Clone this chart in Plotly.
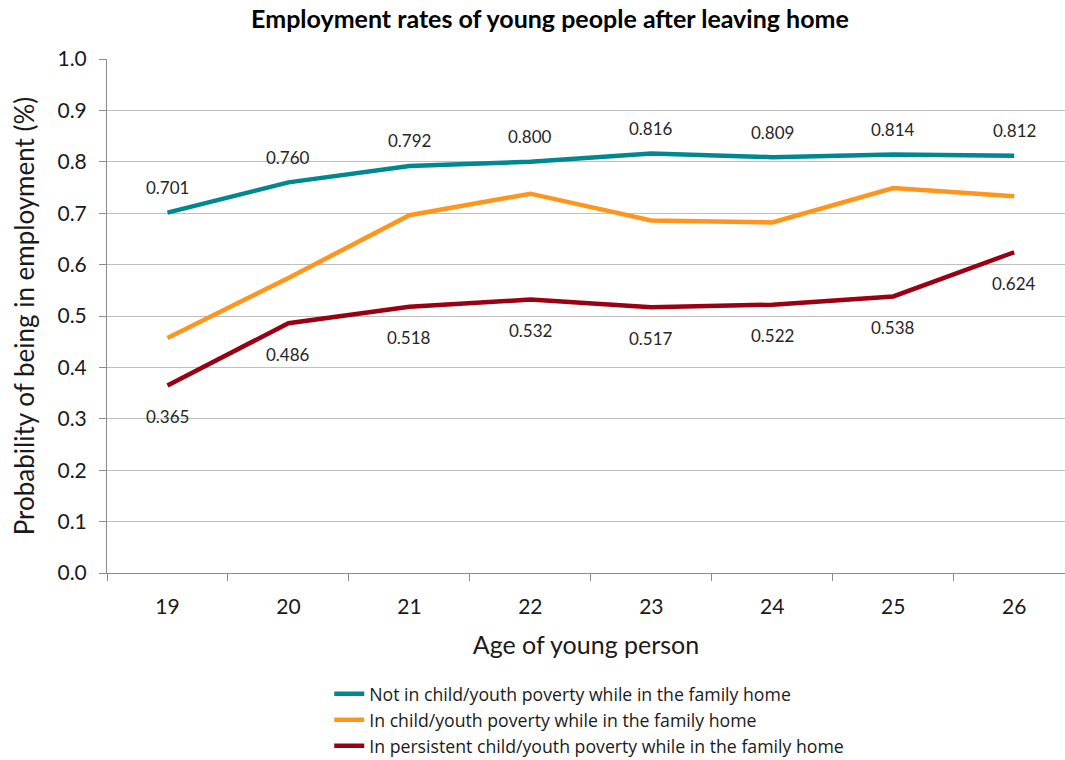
import plotly.graph_objects as go

ages = ["19", "20", "21", "22", "23", "24", "25", "26"]
not_in_poverty = [0.701, 0.760, 0.792, 0.800, 0.816, 0.809, 0.814, 0.812]
in_poverty = [0.457, 0.574, 0.696, 0.738, 0.686, 0.682, 0.749, 0.733]
persistent_poverty = [0.365, 0.486, 0.518, 0.532, 0.517, 0.522, 0.538, 0.624]

series_names = [
    "Not in child/youth poverty while in the family home",
    "In child/youth poverty while in the family home",
    "In persistent child/youth poverty while in the family home",
]
colors = ["#00878F", "#FF951C", "#990012"]

FONT = "Lato, 'Open Sans', sans-serif"

fig = go.Figure()
for name, vals, col in zip(series_names, [not_in_poverty, in_poverty, persistent_poverty], colors):
    fig.add_trace(go.Scatter(
        x=ages, y=vals, name=name, mode="lines",
        line=dict(color=col, width=4.5),
    ))

# value labels: above the top series, below the bottom series
annotations = []
for i, v in enumerate(not_in_poverty):
    annotations.append(dict(x=i, y=v, xref="x", yref="y", text=f"{v:.3f}",
                            showarrow=False, yshift=25,
                            font=dict(family=FONT, size=17, color="#262626")))
for i, v in enumerate(persistent_poverty):
    annotations.append(dict(x=i, y=v, xref="x", yref="y", text=f"{v:.3f}",
                            showarrow=False, yshift=-31,
                            font=dict(family=FONT, size=17, color="#262626")))

fig.update_layout(
    width=1065, height=760,
    paper_bgcolor="white", plot_bgcolor="white",
    margin=dict(l=107, r=0, t=59, b=187, autoexpand=False),
    title=dict(text="<b>Employment rates of young people after leaving home</b>",
               x=0.5164, xanchor="center", y=0.975, yanchor="middle",
               font=dict(family=FONT, size=25, color="black")),
    annotations=annotations,
    showlegend=True,
    legend=dict(x=0.232, y=-0.2, xanchor="left", yanchor="top",
                orientation="v", tracegroupgap=0,
                font=dict(family="'Open Sans', sans-serif", size=17.7, color="#1a1a1a"),
                itemwidth=30, bgcolor="rgba(0,0,0,0)"),
    font=dict(family=FONT),
)

fig.update_xaxes(
    type="category", range=[-0.5, 7.42],
    tickson="boundaries", ticks="outside", ticklen=7, tickcolor="#8c8c8c",
    ticklabelstandoff=15,
    showline=True, linecolor="#8c8c8c", linewidth=1,
    showgrid=False,
    tickfont=dict(family=FONT, size=21, color="#1a1a1a"),
    title=dict(text="Age of young person", standoff=19,
               font=dict(family=FONT, size=25, color="#1a1a1a")),
)
fig.update_yaxes(
    range=[0, 1.0], dtick=0.1, tickformat=".1f",
    ticks="outside", ticklen=7, tickcolor="#8c8c8c",
    ticklabelstandoff=8,
    showline=True, linecolor="#8c8c8c", linewidth=1,
    showgrid=True, gridcolor="#bfbfbf", gridwidth=1,
    zeroline=False,
    tickfont=dict(family=FONT, size=21, color="#1a1a1a"),
    title=dict(text="Probability of being in employment (%)", standoff=15,
               font=dict(family=FONT, size=26, color="#1a1a1a")),
)

fig.write_html("out.html")
